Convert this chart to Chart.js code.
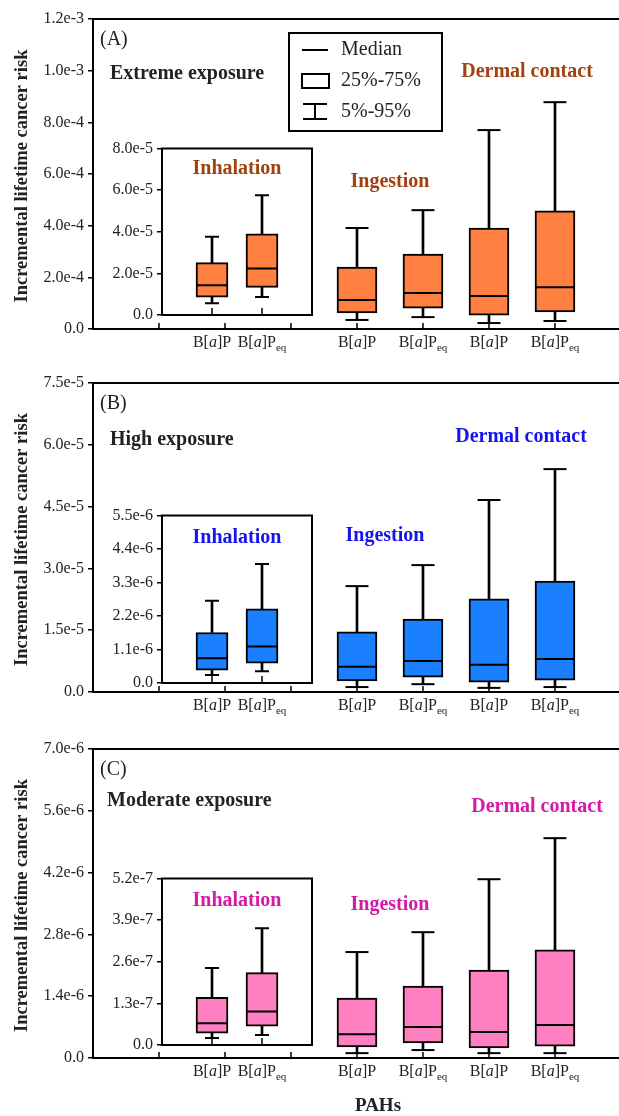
<!DOCTYPE html>
<html>
<head>
<meta charset="utf-8">
<script src="https://cdn.jsdelivr.net/npm/chart.js@4.4.1/dist/chart.umd.min.js"></script>
<style>
  body { margin: 0; background: #fff; width: 619px; height: 1116px; position: relative; overflow: hidden; }
  canvas { position: absolute; }
</style>
</head>
<body>
<canvas id="mainA" width="619" height="360" style="left:0;top:0"></canvas>
<canvas id="mainB" width="619" height="360" style="left:0;top:360px"></canvas>
<canvas id="mainC" width="619" height="396" style="left:0;top:720px"></canvas>
<canvas id="inhA" width="215" height="220" style="left:100px;top:135px"></canvas>
<canvas id="inhB" width="215" height="220" style="left:100px;top:502px"></canvas>
<canvas id="inhC" width="215" height="220" style="left:100px;top:865px"></canvas>
<script>
'use strict';

/***************************** data *****************************/
// order of the main boxes: Ingestion B[a]P, Ingestion B[a]Peq, Dermal B[a]P, Dermal B[a]Peq
var mainTicks = [1, 2, 3, 4, 5, 6, 7];
var boxPos = [4, 5, 6, 7];
var boxEq = [false, true, false, true];
var inhPos = [1, 2];
var inhEq = [false, true];

// (A) extreme exposure
var aP5  = [0.35e-4, 0.46e-4, 0.23e-4, 0.31e-4];
var aQ1  = [0.62e-4, 0.81e-4, 0.54e-4, 0.66e-4];
var aMed = [1.12e-4, 1.39e-4, 1.28e-4, 1.62e-4];
var aQ3  = [2.40e-4, 2.90e-4, 3.91e-4, 4.57e-4];
var aP95 = [3.91e-4, 4.60e-4, 7.70e-4, 8.78e-4];
var aInhP5  = [0.57e-5, 0.86e-5];
var aInhQ1  = [0.86e-5, 1.33e-5];
var aInhMed = [1.43e-5, 2.24e-5];
var aInhQ3  = [2.52e-5, 3.90e-5];
var aInhP95 = [3.76e-5, 5.76e-5];
var aTicks = [0, 2e-4, 4e-4, 6e-4, 8e-4, 1e-3, 1.2e-3];
var aInhTicks = [0, 2e-5, 4e-5, 6e-5, 8e-5];

// (B) high exposure
var bP5  = [0.12e-5, 0.19e-5, 0.10e-5, 0.12e-5];
var bQ1  = [0.27e-5, 0.36e-5, 0.24e-5, 0.29e-5];
var bMed = [0.61e-5, 0.75e-5, 0.66e-5, 0.80e-5];
var bQ3  = [1.46e-5, 1.77e-5, 2.26e-5, 2.69e-5];
var bP95 = [2.57e-5, 3.08e-5, 4.66e-5, 5.41e-5];
var bInhP5  = [0.26e-6, 0.39e-6];
var bInhQ1  = [0.42e-6, 0.65e-6];
var bInhMed = [0.81e-6, 1.20e-6];
var bInhQ3  = [1.66e-6, 2.44e-6];
var bInhP95 = [2.70e-6, 3.91e-6];
var bTicks = [0, 1.5e-5, 3e-5, 4.5e-5, 6e-5, 7.5e-5];
var bInhTicks = [0, 1.1e-6, 2.2e-6, 3.3e-6, 4.4e-6, 5.5e-6];

// (C) moderate exposure
var cP5  = [0.11e-6, 0.18e-6, 0.11e-6, 0.11e-6];
var cQ1  = [0.25e-6, 0.34e-6, 0.23e-6, 0.27e-6];
var cMed = [0.54e-6, 0.70e-6, 0.59e-6, 0.75e-6];
var cQ3  = [1.36e-6, 1.63e-6, 1.99e-6, 2.45e-6];
var cP95 = [2.40e-6, 2.85e-6, 4.05e-6, 4.98e-6];
var cInhP5  = [0.22e-7, 0.31e-7];
var cInhQ1  = [0.37e-7, 0.59e-7];
var cInhMed = [0.68e-7, 1.05e-7];
var cInhQ3  = [1.49e-7, 2.26e-7];
var cInhP95 = [2.41e-7, 3.65e-7];
var cTicks = [0, 1.4e-6, 2.8e-6, 4.2e-6, 5.6e-6, 7e-6];
var cInhTicks = [0, 1.3e-7, 2.6e-7, 3.9e-7, 5.2e-7];

/***************************** helpers *****************************/
var SERIF = '"Liberation Serif", "Times New Roman", serif';

function fmt(v) {
  return v === 0 ? '0.0' : v.toExponential(1);
}

function setTicks(arr) {
  return function(s) { s.ticks = arr.map(function(v) { return {value: v}; }); };
}

// box = floating bar q1..q3, whiskers = thin floating bars, caps + median = 'line' points
function boxSets(pos, p5, q1, med, q3, p95, fill, boxW, capR) {
  function pts(arr) { return pos.map(function(x, i) { return {x: x, y: arr[i]}; }); }
  function rng(lo, hi) { return pos.map(function(x, i) { return {x: x, y: [lo[i], hi[i]]}; }); }
  return [
    {type: 'bar', data: rng(p5, q1), backgroundColor: '#000', barThickness: 2, grouped: false, order: 4},
    {type: 'bar', data: rng(q3, p95), backgroundColor: '#000', barThickness: 2, grouped: false, order: 4},
    {type: 'bar', data: rng(q1, q3), backgroundColor: fill, borderColor: '#000', borderWidth: 2,
      borderSkipped: false, barThickness: boxW, grouped: false, order: 3},
    {type: 'scatter', data: pts(p5).concat(pts(p95)), pointStyle: 'line', pointRadius: capR,
      borderColor: '#000', borderWidth: 2, order: 2},
    {type: 'scatter', data: pts(med), pointStyle: 'line', pointRadius: boxW / 2 - 1,
      borderColor: '#000', borderWidth: 2, order: 1}
  ];
}

// "B[a]P" with italic a, optional subscript "eq", centred on cx
function drawBaP(ctx, cx, y, eq) {
  var parts = [['B[', '16px ' + SERIF, 0], ['a', 'italic 16px ' + SERIF, 0], [']P', '16px ' + SERIF, 0]];
  if (eq) parts.push(['eq', '11px ' + SERIF, 4]);
  var w = 0;
  parts.forEach(function(p) { ctx.font = p[1]; w += ctx.measureText(p[0]).width; });
  var x = cx - w / 2;
  ctx.fillStyle = '#222';
  ctx.textAlign = 'left';
  ctx.textBaseline = 'alphabetic';
  parts.forEach(function(p) {
    ctx.font = p[1];
    ctx.fillText(p[0], x, y + p[2]);
    x += ctx.measureText(p[0]).width;
  });
}

function text(ctx, s, x, y, font, color, align) {
  ctx.font = font;
  ctx.fillStyle = color;
  ctx.textAlign = align || 'left';
  ctx.textBaseline = 'middle';
  ctx.fillText(s, x, y);
}

function drawLegend(ctx) {
  ctx.strokeStyle = '#000';
  ctx.lineWidth = 2;
  ctx.strokeRect(289, 33, 153, 98);
  ctx.beginPath();
  ctx.moveTo(302, 50); ctx.lineTo(328, 50);
  ctx.stroke();
  ctx.strokeRect(302, 74, 27, 14);
  ctx.beginPath();
  ctx.moveTo(303, 104); ctx.lineTo(327, 104);
  ctx.moveTo(303, 119); ctx.lineTo(327, 119);
  ctx.moveTo(315, 104); ctx.lineTo(315, 119);
  ctx.stroke();
  var f = '20px ' + SERIF;
  text(ctx, 'Median', 341, 50, f, '#222');
  text(ctx, '25%-75%', 341, 81, f, '#222');
  text(ctx, '5%-95%', 341, 112, f, '#222');
}

/***************************** main panels *****************************/
function mainChart(id, o) {
  var H = document.getElementById(id).height;
  return new Chart(document.getElementById(id), {
    type: 'bar',
    data: {datasets: boxSets(boxPos, o.p5, o.q1, o.med, o.q3, o.p95, o.fill, 40, 11.5)},
    options: {
      responsive: false, animation: false, events: [],
      layout: {autoPadding: false, padding: {top: o.top, left: 0, right: 0, bottom: 0}},
      plugins: {legend: {display: false}, tooltip: {enabled: false}},
      scales: {
        x: {
          type: 'linear', min: 0, max: 7.97, offset: false,
          afterBuildTicks: setTicks(mainTicks),
          afterFit: function(s) { s.height = H - o.bottom; },
          ticks: {display: false}, grid: {display: false, offset: false},
          border: {display: true, color: '#000', width: 2}
        },
        y: {
          min: 0, max: o.ticks[o.ticks.length - 1],
          afterBuildTicks: setTicks(o.ticks),
          afterFit: function(s) { s.width = 93; },
          ticks: {font: {family: SERIF, size: 16}, color: '#222', padding: 4, callback: fmt},
          grid: {drawOnChartArea: false, tickLength: 5, color: '#000', lineWidth: 1.5},
          border: {color: '#000', width: 2}
        }
      }
    },
    plugins: [{
      id: 'deco',
      afterDraw: function(c) {
        var a = c.chartArea, ctx = c.ctx, xs = c.scales.x;
        ctx.save();
        ctx.strokeStyle = '#000';
        ctx.lineWidth = 2;
        ctx.beginPath();
        ctx.moveTo(a.left - 1, a.top); ctx.lineTo(a.right, a.top);
        ctx.stroke();
        ctx.lineWidth = 1.5;
        ctx.beginPath();
        mainTicks.forEach(function(v) {
          var px = xs.getPixelForValue(v);
          ctx.moveTo(px, a.bottom); ctx.lineTo(px, a.bottom - 6);
        });
        ctx.stroke();
        boxPos.forEach(function(v, i) { drawBaP(ctx, xs.getPixelForValue(v), a.bottom + 18, boxEq[i]); });

        ctx.save();
        ctx.translate(22, (a.top + a.bottom) / 2 + 2);
        ctx.rotate(-Math.PI / 2);
        text(ctx, 'Incremental lifetime cancer risk', 0, 0, 'bold 18.5px ' + SERIF, '#222', 'center');
        ctx.restore();

        text(ctx, o.letter, 100, a.top + 21, '20px ' + SERIF, '#222');
        text(ctx, o.title, o.titleX, a.top + o.titleDy, 'bold 20px ' + SERIF, '#222');
        text(ctx, 'Ingestion', o.ingX, a.top + o.ingDy, 'bold 20px ' + SERIF, o.color, 'center');
        text(ctx, 'Dermal contact', o.derX, a.top + o.derDy, 'bold 20px ' + SERIF, o.color, 'center');
        if (o.legend) drawLegend(ctx);
        if (o.xTitle) text(ctx, 'PAHs', 378, 386, 'bold 19px ' + SERIF, '#222', 'center');
        ctx.restore();
      }
    }]
  });
}

/***************************** inhalation insets *****************************/
function inhChart(id, o) {
  var H = document.getElementById(id).height;
  return new Chart(document.getElementById(id), {
    type: 'bar',
    data: {datasets: boxSets(inhPos, o.p5, o.q1, o.med, o.q3, o.p95, o.fill, 32, 7)},
    options: {
      responsive: false, animation: false, events: [],
      layout: {autoPadding: false, padding: {top: 12, left: 0, right: 3, bottom: 0}},
      plugins: {legend: {display: false}, tooltip: {enabled: false}},
      scales: {
        x: {
          type: 'linear', min: 0, max: 3, offset: false,
          afterBuildTicks: setTicks(inhPos),
          afterFit: function(s) { s.height = H - o.bottom; },
          ticks: {display: false}, grid: {display: false, offset: false},
          border: {display: true, color: '#000', width: 2}
        },
        y: {
          min: 0, max: o.ticks[o.ticks.length - 1],
          afterBuildTicks: setTicks(o.ticks),
          afterFit: function(s) { s.width = 62; },
          ticks: {font: {family: SERIF, size: 16}, color: '#222', padding: 4, callback: fmt},
          grid: {drawOnChartArea: false, tickLength: 5, color: '#000', lineWidth: 1.5},
          border: {color: '#000', width: 2}
        }
      }
    },
    plugins: [{
      id: 'inset',
      beforeDraw: function(c) {
        var a = c.chartArea;
        c.ctx.save();
        c.ctx.fillStyle = '#fff';
        c.ctx.fillRect(a.left, a.top, a.right - a.left, a.bottom - a.top);
        c.ctx.restore();
      },
      afterDraw: function(c) {
        var a = c.chartArea, ctx = c.ctx, xs = c.scales.x;
        ctx.save();
        ctx.strokeStyle = '#000';
        ctx.lineWidth = 2;
        ctx.beginPath();
        ctx.moveTo(a.left - 1, a.top); ctx.lineTo(a.right, a.top); ctx.lineTo(a.right, a.bottom + 1);
        ctx.stroke();
        ctx.lineWidth = 1.5;
        ctx.beginPath();
        inhPos.forEach(function(v) {
          var px = xs.getPixelForValue(v);
          ctx.moveTo(px, a.bottom); ctx.lineTo(px, a.bottom - 7);
        });
        ctx.stroke();
        inhPos.forEach(function(v, i) { drawBaP(ctx, xs.getPixelForValue(v), o.labelY, inhEq[i]); });
        text(ctx, 'Inhalation', 137, a.top + o.inhDy, 'bold 20px ' + SERIF, o.color, 'center');
        ctx.restore();
      }
    }]
  });
}

var colA = '#A3400F', fillA = '#FF8040';
var colB = '#1414EE', fillB = '#1A80FF';
var colC = '#D41AA6', fillC = '#FF80C0';

mainChart('mainA', {p5: aP5, q1: aQ1, med: aMed, q3: aQ3, p95: aP95, ticks: aTicks, fill: fillA, color: colA,
  top: 19, bottom: 329, letter: '(A)', title: 'Extreme exposure', titleX: 110, titleDy: 55,
  ingX: 390, ingDy: 163, derX: 527, derDy: 53, legend: true});
mainChart('mainB', {p5: bP5, q1: bQ1, med: bMed, q3: bQ3, p95: bP95, ticks: bTicks, fill: fillB, color: colB,
  top: 23, bottom: 332, letter: '(B)', title: 'High exposure', titleX: 110, titleDy: 57,
  ingX: 385, ingDy: 153, derX: 521, derDy: 54});
mainChart('mainC', {p5: cP5, q1: cQ1, med: cMed, q3: cQ3, p95: cP95, ticks: cTicks, fill: fillC, color: colC,
  top: 29, bottom: 338, letter: '(C)', title: 'Moderate exposure', titleX: 107, titleDy: 52,
  ingX: 390, ingDy: 156, derX: 537, derDy: 58, xTitle: true});

inhChart('inhA', {p5: aInhP5, q1: aInhQ1, med: aInhMed, q3: aInhQ3, p95: aInhP95, ticks: aInhTicks,
  fill: fillA, color: colA, bottom: 180, labelY: 212, inhDy: 20});
inhChart('inhB', {p5: bInhP5, q1: bInhQ1, med: bInhMed, q3: bInhQ3, p95: bInhP95, ticks: bInhTicks,
  fill: fillB, color: colB, bottom: 181, labelY: 208, inhDy: 22});
inhChart('inhC', {p5: cInhP5, q1: cInhQ1, med: cInhMed, q3: cInhQ3, p95: cInhP95, ticks: cInhTicks,
  fill: fillC, color: colC, bottom: 180, labelY: 211, inhDy: 22});
</script>
</body>
</html>
